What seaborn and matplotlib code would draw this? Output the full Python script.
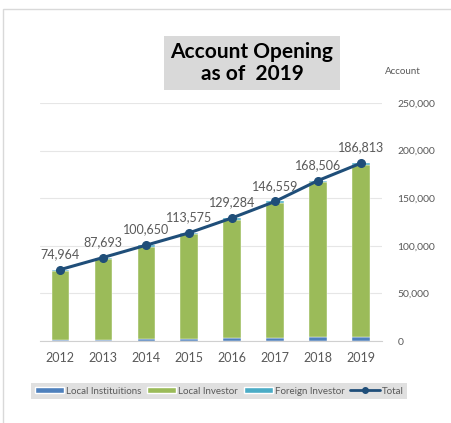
import numpy as np
import pandas as pd
import matplotlib
matplotlib.use("Agg")
import matplotlib.pyplot as plt
import seaborn as sns
from matplotlib.patches import Rectangle
from matplotlib.lines import Line2D
from matplotlib.patches import Patch

years = ["2012", "2013", "2014", "2015", "2016", "2017", "2018", "2019"]
local_institutions = [1200, 1500, 1700, 2000, 2800, 3000, 3800, 4000]
local_investor = [72264, 84693, 97350, 109875, 124684, 141659, 162706, 180713]
foreign_investor = [1500, 1500, 1600, 1700, 1800, 1900, 2000, 2100]
total = [74964, 87693, 100650, 113575, 129284, 146559, 168506, 186813]

sns.set_style("white")
plt.rcParams['font.family'] = ['Lato', 'DejaVu Sans']

c_inst = "#4F81BD"
c_local = "#9BBB59"
c_foreign = "#4BACC6"
c_total = "#1F4E79"
c_text = "#595959"

fig = plt.figure(figsize=(4.52, 4.23), dpi=100)
# outer frame
fig.patches.append(Rectangle((3/452, -0.01), 1.0, 1 - 9/423 + 0.01, transform=fig.transFigure,
                             fill=False, edgecolor="#D9D9D9", linewidth=1.0))

ax = fig.add_axes([40/452, 1 - 341/423, (382 - 40)/452, (341 - 103)/423])

df = pd.DataFrame({"year": years, "inst": local_institutions, "local": local_investor,
                   "foreign": foreign_investor, "total": total})
b1 = np.array(local_institutions)
b2 = b1 + np.array(local_investor)

sns.barplot(data=df, x="year", y="inst", color=c_inst, width=0.4, ax=ax, saturation=1,
            edgecolor="white", linewidth=0.3)
sns.barplot(data=df, x="year", y="local", color=c_local, width=0.4, ax=ax, saturation=1,
            bottom=b1, edgecolor="white", linewidth=0.3)
sns.barplot(data=df, x="year", y="foreign", color=c_foreign, width=0.4, ax=ax, saturation=1,
            bottom=b2, edgecolor="white", linewidth=0.3)

xs = np.arange(len(years))
ax.plot(xs, total, color=c_total, linewidth=2.2, marker="o", markersize=5.5, zorder=5)
for x, v in zip(xs, total):
    ax.annotate(f"{v:,}", (x, v), xytext=(0, 7), textcoords="offset points",
                ha="center", va="bottom", fontsize=9, color=c_text)

ax.set_ylim(0, 250000)
ax.set_xlim(-0.47, 7.49)
ax.set_yticks([0, 50000, 100000, 150000, 200000, 250000])
ax.set_yticklabels(["0", "50,000", "100,000", "150,000", "200,000", "250,000"])
ax.yaxis.tick_right()
ax.tick_params(axis="y", labelsize=7.5, labelcolor=c_text, length=0, pad=11)
ax.tick_params(axis="x", labelsize=9, labelcolor=c_text, length=0, pad=8)
ax.set_xlabel("")
ax.set_ylabel("")
ax.grid(axis="y", color="#E6E6E6", linewidth=0.8)
ax.set_axisbelow(True)
for s in ["top", "right", "left"]:
    ax.spines[s].set_visible(False)
ax.spines["bottom"].set_color("#D0D0D0")

fig.text(403/452, 1 - 72/423, "Account", fontsize=7, color=c_text, ha="center", va="center")

fig.text(252/452, 1 - 63/423, "Account Opening\nas of  2019", fontsize=15, fontweight="bold",
         ha="center", va="center", color="black", linespacing=1.1,
         bbox=dict(boxstyle="square,pad=0.3", facecolor="#D9D9D9", edgecolor="none"))

handles = [Patch(facecolor=c_inst, label="Local Instituitions"),
           Patch(facecolor=c_local, label="Local Investor"),
           Patch(facecolor=c_foreign, label="Foreign Investor"),
           Line2D([0], [0], color=c_total, linewidth=2, marker="o", markersize=4, label="Total")]
leg = fig.legend(handles=handles, loc="center", bbox_to_anchor=(219/452, 1 - 391/423), ncol=4,
                 fontsize=7, frameon=True, fancybox=False, handlelength=3.0, handleheight=0.6,
                 columnspacing=0.6, handletextpad=0.2, borderpad=0.35, labelcolor=c_text)
leg.get_frame().set_facecolor("#D9D9D9")
leg.get_frame().set_edgecolor("none")

fig.savefig("out.png", dpi=100)
